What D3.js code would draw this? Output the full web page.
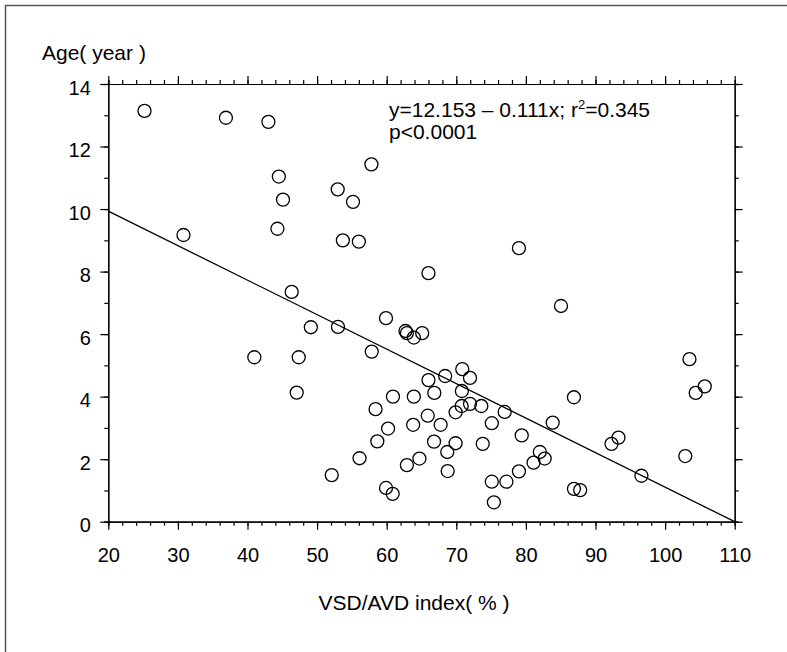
<!DOCTYPE html>
<html>
<head>
<meta charset="utf-8">
<script src="https://cdn.jsdelivr.net/npm/d3@7"></script>
<style>
  html, body { margin: 0; padding: 0; background: #fff; }
  svg { display: block; font-family: "Liberation Sans", Arial, sans-serif; }
</style>
</head>
<body>
<svg id="chart" width="787" height="652"></svg>
<script>
// ---- data ----
const vsdAvdIndex = [25.2, 36.9, 43.0, 44.5, 45.1, 44.3, 30.8, 46.35, 57.8, 52.96,
  55.16, 53.7, 56.0, 66.0, 79.0, 49.1, 40.98, 47.36, 47.07, 53.0,
  59.9, 62.7, 62.9, 63.9, 65.1, 57.85, 70.86, 71.97, 68.4, 66.0,
  66.84, 70.8, 60.9, 63.9, 58.4, 70.77, 71.97, 69.9, 73.6, 76.95,
  83.85, 75.1, 65.9, 63.8, 67.75, 60.2, 79.4, 58.65, 66.8, 69.9,
  73.8, 68.7, 56.1, 64.7, 62.9, 82.0, 82.7, 81.1, 79.0, 68.76,
  52.1, 75.1, 77.2, 59.9, 60.86, 75.4, 85.04, 103.5, 104.4, 105.7,
  86.9, 92.3, 93.3, 102.9, 96.6, 86.9, 87.8];
const ageYears = [13.14, 12.92, 12.79, 11.04, 10.30, 9.37, 9.17, 7.35, 11.43, 10.63,
  10.23, 9.0, 8.96, 7.95, 8.75, 6.22, 5.26, 5.26, 4.13, 6.23,
  6.51, 6.10, 6.03, 5.89, 6.03, 5.44, 4.88, 4.60, 4.66, 4.53,
  4.12, 4.18, 4.0, 4.0, 3.60, 3.70, 3.77, 3.50, 3.70, 3.51,
  3.17, 3.15, 3.39, 3.10, 3.10, 2.98, 2.76, 2.57, 2.56, 2.51,
  2.49, 2.23, 2.03, 2.02, 1.81, 2.23, 2.02, 1.89, 1.61, 1.62,
  1.49, 1.28, 1.28, 1.08, 0.89, 0.62, 6.90, 5.20, 4.12, 4.33,
  3.98, 2.49, 2.69, 2.10, 1.47, 1.05, 1.01];
const xMajorTicks = [20, 30, 40, 50, 60, 70, 80, 90, 100, 110];
const xMinorTicks = d3.range(20, 111, 2);
const yMajorTicks = [0, 2, 4, 6, 8, 10, 12, 14];
const yMinorTicks = d3.range(0, 15, 1);
const intercept = 12.153;
const slope = -0.111;
const xTitle = "VSD/AVD index( % )";
const yTitle = "Age( year )";
const eqLine1a = "y=12.153 \u2013 0.111x; r";
const eqLine1b = "2";
const eqLine1c = "=0.345";
const eqLine2 = "p<0.0001";

// ---- layout ----
const svg = d3.select("#chart");
const L = 108.3, R = 734.7, T = 84, B = 521.7;
const x = d3.scaleLinear().domain([20, 110]).range([L, R]);
const y = d3.scaleLinear().domain([0, 14]).range([B, T]);

svg.append("rect").attr("width", 787).attr("height", 652).attr("fill", "#fff");

// frame border (top and left)
svg.append("path")
  .attr("d", "M5.5,652 L5.5,5.5 L787,5.5")
  .attr("fill", "none").attr("stroke", "#555").attr("stroke-width", 1.5);

const fontSize = 20;

function styleAxis(g) {
  g.selectAll("path, line").attr("stroke", "#000").attr("stroke-width", 1.2);
  g.selectAll("text").attr("fill", "#000").attr("font-size", fontSize)
    .attr("font-family", "Liberation Sans, Arial, sans-serif");
}

// minor ticks
svg.append("g").attr("transform", `translate(0,${B})`)
  .call(d3.axisBottom(x).tickValues(xMinorTicks).tickSize(4).tickFormat(""))
  .call(styleAxis);
svg.append("g").attr("transform", `translate(0,${T})`)
  .call(d3.axisTop(x).tickValues(xMinorTicks).tickSize(4).tickFormat(""))
  .call(styleAxis);
svg.append("g").attr("transform", `translate(${L},0)`)
  .call(d3.axisLeft(y).tickValues(yMinorTicks).tickSize(4).tickFormat(""))
  .call(styleAxis);
svg.append("g").attr("transform", `translate(${R},0)`)
  .call(d3.axisRight(y).tickValues(yMinorTicks).tickSize(4).tickFormat(""))
  .call(styleAxis);

// major ticks
const gxB = svg.append("g").attr("transform", `translate(0,${B})`)
  .call(d3.axisBottom(x).tickValues(xMajorTicks).tickSize(8).tickSizeOuter(0).tickFormat(d3.format("d")))
  .call(styleAxis);
gxB.selectAll("text").attr("y", 40).attr("dy", 0);

svg.append("g").attr("transform", `translate(0,${T})`)
  .call(d3.axisTop(x).tickValues(xMajorTicks).tickSize(8).tickSizeOuter(0).tickFormat(""))
  .call(styleAxis);

const gyL = svg.append("g").attr("transform", `translate(${L},0)`)
  .call(d3.axisLeft(y).tickValues(yMajorTicks).tickSize(8).tickSizeOuter(0).tickFormat(d3.format("d")))
  .call(styleAxis);
gyL.selectAll("text").attr("x", -17.5).attr("y", 10).attr("dy", 0);

svg.append("g").attr("transform", `translate(${R},0)`)
  .call(d3.axisRight(y).tickValues(yMajorTicks).tickSize(8).tickSizeOuter(0).tickFormat(""))
  .call(styleAxis);

// regression line
const xStart = 20, xEnd = 110;
const lineData = [xStart, xEnd].map(v => [v, Math.max(0, intercept + slope * v)]);
svg.append("path")
  .datum(lineData)
  .attr("d", d3.line().x(d => x(d[0])).y(d => y(d[1])))
  .attr("fill", "none").attr("stroke", "#000").attr("stroke-width", 1.3);

// points
svg.append("g").selectAll("circle")
  .data(vsdAvdIndex.map((v, i) => [v, ageYears[i]]))
  .join("circle")
  .attr("cx", d => x(d[0]))
  .attr("cy", d => y(d[1]))
  .attr("r", 6.5)
  .attr("fill", "none")
  .attr("stroke", "#000")
  .attr("stroke-width", 1.3);

// titles
svg.append("text").attr("x", 42).attr("y", 60)
  .attr("font-size", 21).attr("fill", "#000").text(yTitle);
svg.append("text").attr("x", 414).attr("y", 610).attr("text-anchor", "middle")
  .attr("font-size", 21).attr("fill", "#000").text(xTitle);

// equation annotation
const eq = svg.append("text").attr("x", 389).attr("y", 117)
  .attr("font-size", 21).attr("fill", "#000");
eq.append("tspan").text(eqLine1a);
eq.append("tspan").attr("font-size", 13).attr("dy", -8).text(eqLine1b);
eq.append("tspan").attr("dy", 8).text(eqLine1c);
svg.append("text").attr("x", 389).attr("y", 139)
  .attr("font-size", 21).attr("fill", "#000").text(eqLine2);
</script>
</body>
</html>
